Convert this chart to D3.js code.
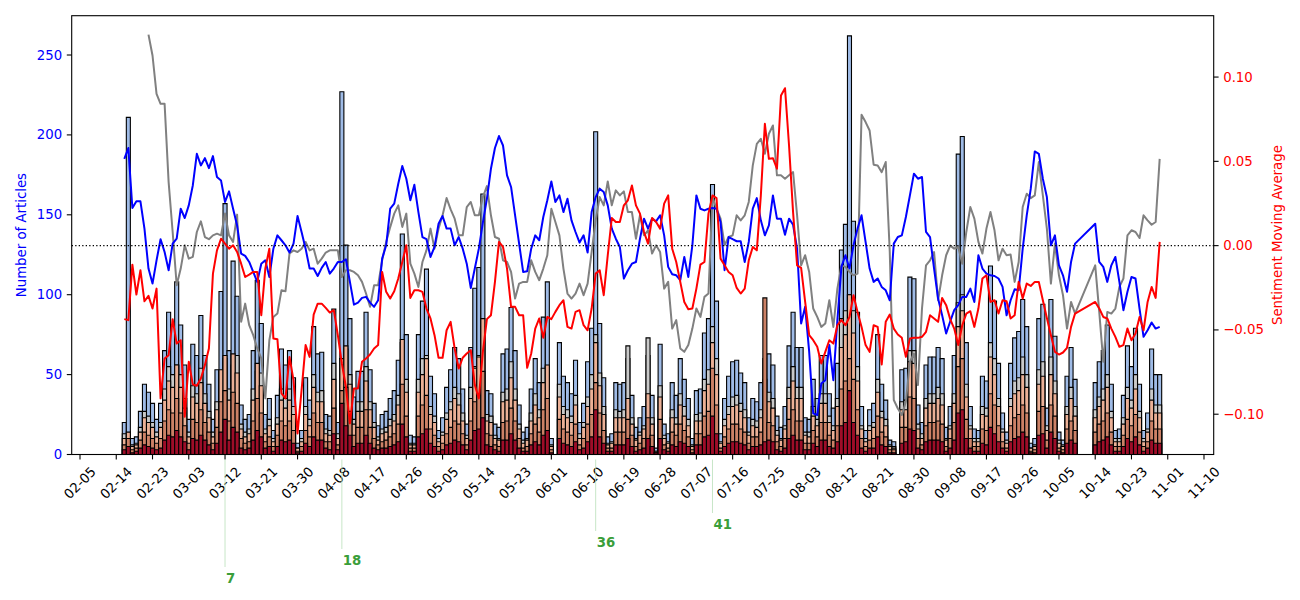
<!DOCTYPE html>
<html><head><meta charset="utf-8">
<script src="https://cdn.jsdelivr.net/npm/d3@7"></script>
<style>body{margin:0;background:#fff}text{font-family:"DejaVu Sans",sans-serif}</style>
</head><body><svg id="c" width="1300" height="600"></svg>
<script>
const startDay = "2020-02-16";
const totalArticles = [20,211,10,11,27,44,39,32,22,32,65,89,81,108,81,56,22,69,62,87,62,44,22,53,102,157,65,121,99,31,22,25,65,
109,82,25,35,15,37,66,56,65,48,7,15,48,34,80,63,64,25,24,91,20,227,131,85,36,52,52,89,53,32,18,25,27,35,40,
59,138,75,12,11,75,96,116,49,38,15,23,42,53,67,60,41,19,67,104,117,163,40,38,19,17,63,66,92,65,31,14,17,
41,60,45,86,108,10,0,70,49,45,38,59,20,32,58,79,202,82,48,11,13,45,44,45,60,37,17,23,30,62,37,4,69,19,13,45,
37,60,47,35,10,40,41,76,85,169,96,13,35,49,58,59,51,45,23,35,33,45,60,63,56,24,17,30,68,89,67,67,23,22,47,
35,62,62,38,29,57,128,144,262,146,89,30,15,28,32,75,44,34,9,8,0,53,54,111,110,31,20,56,61,61,67,60,17,30,
62,188,199,70,30,16,15,49,46,118,96,57,26,14,57,73,77,97,80,7,10,85,94,29,97,74,14,9,49,67,47,0,
0,0,0,
45,58,65,81,44,15,16,37,68,55,79,44,15,26,66,50,50];
const grayCounts = [13,12,6,7,17,27,24,20,14,20,41,55,50,56,50,35,14,43,38,54,38,27,14,33,52,60,41,56,62,19,14,16,41,
52,51,16,22,10,23,41,35,41,30,4,10,30,22,50,39,40,16,15,57,13,60,66,50,22,33,33,55,33,20,11,16,17,22,25,
37,70,47,7,7,47,60,62,30,24,10,14,26,33,42,38,26,12,42,55,62,80,25,24,12,10,39,41,58,41,19,9,10,
26,38,28,54,55,6,0,44,30,28,24,37,13,20,36,50,75,51,30,7,8,28,27,28,68,23,10,14,18,73,23,2,43,12,8,28,
23,38,30,22,6,25,26,47,53,80,60,8,22,30,36,37,32,28,14,22,21,28,47,39,35,15,10,18,42,55,42,42,14,14,30,
22,38,38,24,18,35,85,90,100,90,55,18,10,18,20,47,27,22,6,5,0,33,34,65,65,19,13,35,38,38,42,38,10,18,
38,95,100,44,18,10,10,30,29,70,60,35,16,9,35,46,48,61,50,4,6,53,58,18,61,46,9,6,30,42,30,0,
0,0,0,
28,36,41,50,27,10,10,23,42,34,50,27,10,16,41,31,31];
const lightCounts = [10,14,5,6,14,23,20,17,11,17,34,46,42,56,42,29,11,36,32,45,32,23,11,28,53,62,34,63,51,16,11,13,34,
57,43,13,18,8,19,34,29,34,25,4,8,25,18,42,33,33,13,12,47,10,60,68,44,19,27,27,46,28,17,9,13,14,18,21,
31,72,39,6,6,39,50,60,25,20,8,12,22,28,35,31,21,10,35,54,61,85,21,20,10,9,33,34,48,34,16,7,9,
21,31,23,45,56,5,0,36,25,23,20,31,10,17,30,41,70,43,25,6,7,23,23,23,35,19,9,12,16,38,19,2,36,10,7,23,
19,31,24,18,5,21,21,40,44,70,50,7,18,25,30,31,27,23,12,18,17,23,31,33,29,12,9,16,35,46,35,35,12,11,24,
18,32,32,20,15,30,67,75,100,76,46,16,8,15,17,39,23,18,5,4,0,28,28,58,57,16,10,29,32,32,35,31,9,16,
32,80,90,36,16,8,8,25,24,61,50,30,14,7,30,38,40,50,42,4,5,44,49,15,50,38,7,5,25,35,24,0,
0,0,0,
23,30,34,42,23,8,8,19,35,29,41,23,8,14,34,26,26];
const midCounts = [6,10,3,4,9,14,12,10,7,10,21,28,26,35,26,18,7,22,20,28,20,14,7,17,33,40,21,39,32,10,7,8,21,
35,26,8,11,5,12,21,18,21,15,2,5,15,11,26,20,20,8,8,29,6,40,42,27,12,17,17,28,17,10,6,8,9,11,13,
19,44,24,4,4,24,31,37,16,12,5,7,13,17,21,19,13,6,21,33,37,52,13,12,6,5,20,21,29,21,10,4,5,
13,19,14,28,35,3,0,22,16,14,12,19,6,10,19,25,45,26,15,4,4,14,14,14,22,12,5,7,10,23,12,1,22,6,4,14,
12,19,15,11,3,13,13,24,27,54,31,4,11,16,19,19,16,14,7,11,11,14,98,20,18,8,5,10,22,28,21,21,7,7,15,
11,20,20,12,9,18,41,46,60,47,28,10,5,9,10,24,14,11,3,3,0,17,17,36,35,10,6,18,20,20,21,19,5,10,
20,55,60,22,10,5,5,16,15,38,31,18,8,4,18,23,25,31,26,2,3,27,30,9,31,24,4,3,16,21,15,0,
0,0,0,
14,19,21,26,14,5,5,12,22,18,25,14,5,8,21,16,16];
const darkCounts = [3,5,1,2,4,6,5,4,3,4,9,12,11,15,11,8,3,10,9,12,9,6,3,7,14,22,9,17,14,4,3,4,9,
15,11,4,5,2,5,9,8,9,7,1,2,7,5,11,9,9,4,3,13,3,32,18,12,5,7,7,12,7,4,3,4,4,5,6,
8,19,11,2,2,11,13,16,7,5,2,3,6,7,9,8,6,3,9,15,16,23,6,5,3,2,9,9,13,9,4,2,2,
6,8,6,12,15,1,0,10,7,6,5,8,3,4,8,11,28,11,7,2,2,6,6,6,10,5,2,3,4,10,5,1,10,3,2,6,
5,8,7,5,1,6,6,11,12,24,13,2,5,7,8,8,7,6,3,5,5,6,8,9,8,3,2,4,10,12,9,9,3,3,7,
5,9,9,5,4,8,18,20,40,20,12,4,2,4,4,11,6,5,1,1,0,7,8,16,15,4,3,8,9,9,9,8,2,4,
9,26,28,10,4,2,2,7,6,17,13,8,4,2,8,10,11,14,11,1,1,12,13,4,14,10,2,1,7,9,7,0,
0,0,0,
6,8,9,11,6,2,2,5,10,8,11,6,2,4,9,7,7];
const sentimentMA = [-0.0436,-0.0442,-0.0113,-0.0290,-0.0146,-0.0330,-0.0298,-0.0373,-0.0255,-0.0906,-0.0669,-0.0650,-0.0436,-0.0581,-0.0561,-0.1015,-0.0689,-0.0823,-0.0831,-0.0788,-0.0709,-0.0610,-0.0166,-0.0028,0.0041,0.0012,-0.0018,0.0002,-0.0038,-0.0107,-0.0186,-0.0172,-0.0156,
-0.0156,-0.0413,-0.0136,-0.0018,-0.0551,-0.0555,-0.0877,-0.0906,-0.0660,-0.0798,-0.1114,-0.0857,-0.0590,-0.0660,-0.0409,-0.0344,-0.0344,-0.0369,-0.0397,-0.0383,-0.0531,-0.0699,-0.0837,-0.1054,-0.0847,-0.0847,-0.0689,-0.0669,-0.0646,-0.0610,-0.0590,-0.0156,-0.0274,-0.0314,-0.0271,
-0.0195,-0.0097,0.0002,-0.0310,-0.0265,-0.0265,-0.0274,-0.0373,-0.0432,-0.0531,-0.0665,-0.0665,-0.0502,-0.0452,-0.0610,-0.0729,-0.0665,-0.0640,-0.0620,-0.0827,-0.0906,-0.0630,-0.0436,-0.0413,-0.0215,0.0022,-0.0008,-0.0136,-0.0363,-0.0363,-0.0413,-0.0413,-0.0725,
-0.0640,-0.0492,-0.0432,-0.0547,-0.0423,-0.0436,-0.0393,-0.0353,-0.0324,-0.0482,-0.0492,-0.0393,-0.0383,-0.0472,-0.0502,-0.0373,-0.0166,-0.0146,-0.0294,-0.0057,0.0164,0.0140,0.0140,0.0239,0.0269,0.0357,0.0239,0.0190,0.0081,0.0012,0.0164,0.0140,0.0101,0.0249,0.0298,-0.0018,
-0.0097,-0.0215,-0.0334,-0.0377,-0.0373,-0.0255,-0.0113,-0.0097,0.0190,0.0298,0.0282,-0.0077,-0.0117,-0.0156,-0.0176,-0.0251,-0.0284,-0.0255,-0.0087,-0.0008,-0.0028,0.0298,0.0723,0.0515,0.0519,0.0456,0.0891,0.0934,0.0594,0.0199,-0.0117,-0.0132,-0.0334,-0.0531,-0.0561,
-0.0600,-0.0699,-0.0630,-0.0561,-0.0581,-0.0472,-0.0442,-0.0472,-0.0423,-0.0294,-0.0393,-0.0482,-0.0590,-0.0630,-0.0472,-0.0482,-0.0705,-0.0452,-0.0409,-0.0492,-0.0527,-0.0547,-0.0660,-0.0551,-0.0547,-0.0547,-0.0541,-0.0511,-0.0413,-0.0432,-0.0452,-0.0310,-0.0353,-0.0436,
-0.0492,-0.0590,-0.0472,-0.0403,-0.0389,-0.0482,-0.0373,-0.0195,-0.0176,-0.0334,-0.0324,-0.0403,-0.0324,-0.0330,-0.0432,-0.0413,-0.0215,-0.0314,-0.0225,-0.0239,-0.0215,-0.0215,-0.0324,-0.0429,-0.0531,-0.0630,-0.0646,-0.0634,-0.0606,-0.0482,-0.0403,
null,null,null,null,
-0.0334,-0.0373,-0.0423,-0.0432,-0.0492,-0.0541,-0.0600,-0.0590,-0.0492,-0.0561,-0.0521,-0.0423,-0.0502,-0.0334,-0.0245,-0.0310,0.0022];
const blueMA = [0.0515,0.0579,0.0223,0.0263,0.0263,0.0101,-0.0136,-0.0225,-0.0087,0.0038,-0.0038,-0.0146,0.0012,0.0041,0.0219,0.0164,0.0239,0.0357,0.0545,0.0476,0.0519,0.0460,0.0531,0.0407,0.0387,0.0259,0.0322,0.0219,0.0120,-0.0047,-0.0061,-0.0097,-0.0155,
-0.0215,-0.0107,-0.0087,-0.0186,-0.0018,0.0061,0.0032,0.0002,-0.0041,0.0012,0.0176,0.0081,-0.0018,-0.0136,-0.0136,-0.0180,-0.0132,-0.0097,-0.0166,-0.0136,-0.0097,-0.0097,-0.0081,-0.0215,-0.0350,-0.0338,-0.0310,-0.0304,-0.0338,-0.0363,-0.0324,-0.0077,0.0002,0.0219,0.0249,
0.0367,0.0472,0.0397,0.0269,0.0361,0.0199,0.0051,0.0038,-0.0067,-0.0008,0.0130,0.0176,0.0101,0.0101,0.0002,0.0051,-0.0018,-0.0107,-0.0251,-0.0136,-0.0018,0.0136,0.0278,0.0456,0.0579,0.0650,0.0594,0.0417,0.0348,0.0180,0.0012,-0.0156,-0.0152,
-0.0018,0.0061,0.0032,0.0170,0.0269,0.0381,0.0259,0.0298,0.0199,0.0278,0.0150,0.0081,0.0018,0.0061,-0.0041,0.0199,0.0288,0.0338,0.0318,0.0239,0.0101,0.0041,-0.0008,-0.0195,-0.0146,-0.0107,-0.0097,0.0041,0.0160,0.0101,0.0160,0.0144,0.0180,0.0061,-0.0126,-0.0170,
-0.0176,-0.0205,-0.0067,-0.0186,0.0002,0.0298,0.0219,0.0209,0.0219,0.0223,0.0219,0.0140,-0.0146,0.0051,0.0038,0.0026,0.0026,-0.0097,0.0022,0.0219,0.0282,0.0150,0.0061,0.0120,0.0298,0.0160,0.0160,0.0065,0.0160,0.0124,-0.0018,-0.0462,-0.0363,-0.0630,-0.0995,
-0.1005,-0.0818,-0.0798,-0.0590,-0.0798,-0.0442,-0.0126,-0.0057,-0.0136,0.0002,0.0101,0.0180,0.0022,-0.0136,-0.0215,-0.0195,-0.0245,-0.0265,-0.0324,0.0012,0.0051,0.0061,0.0170,0.0298,0.0427,0.0397,0.0407,0.0081,0.0051,-0.0136,-0.0314,-0.0413,-0.0521,-0.0450,
-0.0383,-0.0353,-0.0304,-0.0304,-0.0255,-0.0334,-0.0057,-0.0136,-0.0166,-0.0176,-0.0180,-0.0195,-0.0245,-0.0413,-0.0324,-0.0259,-0.0265,-0.0018,0.0180,0.0338,0.0559,0.0545,0.0397,0.0288,0.0002,0.0061,-0.0117,-0.0176,-0.0274,-0.0097,0.0012,
null,null,null,null,
0.0130,-0.0097,-0.0126,-0.0215,-0.0117,-0.0067,-0.0215,-0.0383,-0.0274,-0.0186,-0.0195,-0.0373,-0.0541,-0.0502,-0.0456,-0.0492,-0.0482];
const grayMA = [null,null,null,null,null,null,
0.1252,0.1128,0.0900,0.0841,0.0841,0.0377,0.0081,-0.0235,-0.0136,0.0002,-0.0077,-0.0067,0.0081,0.0144,0.0051,0.0038,0.0061,0.0071,0.0061,0.0190,0.0061,0.0022,0.0184,-0.0452,-0.0344,-0.0472,-0.0531,
-0.0610,-0.0669,-0.0906,-0.0561,-0.0423,-0.0403,-0.0265,-0.0271,-0.0047,-0.0028,-0.0038,-0.0018,0.0022,-0.0028,-0.0018,-0.0107,-0.0077,-0.0041,-0.0028,-0.0028,-0.0028,-0.0186,-0.0146,-0.0146,-0.0156,-0.0176,-0.0215,-0.0284,-0.0363,-0.0235,-0.0235,-0.0087,0.0022,0.0110,0.0190,
0.0239,0.0111,0.0190,-0.0107,-0.0166,-0.0245,-0.0097,-0.0028,0.0101,-0.0018,0.0101,0.0180,0.0282,0.0215,0.0160,0.0061,0.0061,0.0229,0.0259,0.0180,0.0180,0.0288,0.0353,0.0180,0.0051,0.0041,-0.0087,-0.0097,-0.0156,-0.0314,-0.0225,-0.0215,-0.0215,
-0.0087,-0.0156,-0.0205,-0.0136,-0.0057,0.0219,0.0140,0.0061,-0.0136,-0.0284,-0.0314,-0.0284,-0.0225,-0.0294,-0.0225,-0.0038,0.0150,0.0288,0.0239,0.0381,0.0239,0.0328,0.0298,0.0322,0.0199,0.0199,0.0041,0.0180,0.0061,0.0091,-0.0047,0.0002,-0.0038,-0.0255,-0.0215,-0.0492,
-0.0442,-0.0610,-0.0630,-0.0590,-0.0492,-0.0373,-0.0423,-0.0304,-0.0284,0.0288,0.0219,0.0160,0.0002,0.0051,0.0061,0.0180,0.0150,0.0180,0.0259,0.0476,0.0604,0.0634,0.0545,0.0664,0.0713,0.0417,0.0417,0.0397,0.0417,0.0436,0.0180,-0.0117,-0.0057,-0.0156,-0.0373,
-0.0423,-0.0482,-0.0462,-0.0324,-0.0482,-0.0255,-0.0117,-0.0126,-0.0156,-0.0176,-0.0166,0.0776,0.0733,0.0683,0.0480,0.0476,0.0436,0.0496,-0.0038,-0.0916,-0.0966,-0.1005,-0.0926,-0.0689,-0.0640,-0.0827,-0.0373,-0.0117,-0.0087,-0.0038,-0.0324,-0.0176,-0.0057,0.0000,
-0.0018,-0.0008,-0.0107,0.0081,0.0229,0.0160,0.0022,-0.0047,0.0101,0.0199,0.0091,-0.0087,-0.0018,-0.0057,-0.0053,-0.0215,-0.0097,0.0229,0.0308,0.0282,0.0298,0.0496,0.0298,0.0101,-0.0225,0.0012,-0.0176,-0.0294,-0.0492,-0.0334,-0.0403,
null,null,null,null,
-0.0117,-0.0393,-0.0689,-0.0393,-0.0403,-0.0373,-0.0245,-0.0195,0.0061,0.0091,0.0081,0.0045,0.0180,0.0150,0.0124,0.0140,0.0515];
const xTickLabels = ["02-05","02-14","02-23","03-03","03-12","03-21","03-30","04-08","04-17","04-26","05-05","05-14","05-23","06-01","06-10","06-19","06-28","07-07","07-16","07-25","08-03","08-12","08-21","08-30","09-08","09-17","09-26","10-05","10-14","10-23","11-01","11-10"];
const leftTicks = [0,50,100,150,200,250];
const rightTicks = [-0.10,-0.05,0.00,0.05,0.10];
const annotDates = ["2020-03-12","2020-04-10","2020-06-12","2020-07-11"];
const annotLabels = ["7","18","36","41"];

const L=71.7,R=1213.7,T=15.7,B=454.5;
const svg=d3.select("#c");
svg.append("rect").attr("width",1300).attr("height",600).attr("fill","#fff");
const parse=d3.utcParse("%Y-%m-%d");
const d0=parse(startDay);
const dates=totalArticles.map((_,i)=>d3.utcDay.offset(d0,i));
const x=d3.scaleUtc().domain([new Date(Date.UTC(2020,1,5)-2.06*864e5),new Date(Date.UTC(2020,10,10)+2.41*864e5)]).range([L,R]);
const yL=d3.scaleLinear().domain([0,274.6]).range([B,T]);
const yR=d3.scaleLinear().domain([-0.1239,0.1364]).range([B,T]);
const dayW=x(d3.utcDay.offset(d0,1))-x(d0);

const layers=[[totalArticles,"#9fbbe6"],[grayCounts,"#c9c9c9"],[lightCounts,"#ebb096"],[midCounts,"#cc8166"],[darkCounts,"#9e0d28"]];
layers.forEach(([arr,col])=>{
  svg.append("g").selectAll("path").data(arr).join("path")
    .attr("d",(v,i)=>{const xl=x(dates[i])-dayW/2,yt=yL(v);return `M${xl},${B}V${yt}H${xl+dayW}V${B}Z`;})
    .attr("fill",col).attr("stroke","#000").attr("stroke-width",1.1);
});

function drawLine(arr,col){
  const pts=arr.map((v,i)=>({d:dates[i],v})).filter(p=>p.v!==null);
  svg.append("path").datum(pts).attr("fill","none").attr("stroke",col).attr("stroke-width",2)
    .attr("stroke-linejoin","round").attr("d",d3.line().x(p=>x(p.d)).y(p=>yR(p.v)));
}
drawLine(grayMA,"#808080");
drawLine(blueMA,"#0000ff");
svg.append("line").attr("x1",L).attr("x2",R).attr("y1",yR(0)).attr("y2",yR(0))
  .attr("stroke","#000").attr("stroke-width",1.3).attr("stroke-dasharray","1.3,2.2");
drawLine(sentimentMA,"#ff0000");

svg.append("rect").attr("x",L).attr("y",T).attr("width",R-L).attr("height",B-T).attr("fill","none").attr("stroke","#000").attr("stroke-width",1.1);

const tickDates=xTickLabels.map((_,k)=>d3.utcDay.offset(new Date(Date.UTC(2020,1,5)),9*k));
const gx=svg.append("g");
tickDates.forEach((d,k)=>{
  const tx=x(d);
  gx.append("line").attr("x1",tx).attr("x2",tx).attr("y1",B).attr("y2",B+4.9).attr("stroke","#000").attr("stroke-width",1.1);
  gx.append("text").attr("transform",`translate(${tx},${B+28.5}) rotate(-45)`).attr("text-anchor","middle")
    .attr("dominant-baseline","central").attr("font-size",13.3).attr("fill","#000").text(xTickLabels[k]);
});
leftTicks.forEach(t=>{
  const ty=yL(t);
  svg.append("line").attr("x1",L-4.9).attr("x2",L).attr("y1",ty).attr("y2",ty).attr("stroke","#000").attr("stroke-width",1.1);
  svg.append("text").attr("x",L-9.5).attr("y",ty).attr("text-anchor","end").attr("dominant-baseline","central")
    .attr("font-size",13.3).attr("fill","#0000ff").text(t);
});
rightTicks.forEach(t=>{
  const ty=yR(t);
  svg.append("line").attr("x1",R).attr("x2",R+4.9).attr("y1",ty).attr("y2",ty).attr("stroke","#000").attr("stroke-width",1.1);
  svg.append("text").attr("x",R+9.5).attr("y",ty).attr("text-anchor","start").attr("dominant-baseline","central")
    .attr("font-size",13.3).attr("fill","#ff0000").text(d3.format(".2f")(t).replace("-","\u2212"));
});
svg.append("text").attr("transform",`translate(21,${(T+B)/2}) rotate(-90)`).attr("text-anchor","middle")
  .attr("dominant-baseline","central").attr("font-size",13.3).attr("fill","#0000ff").text("Number of Articles");
svg.append("text").attr("transform",`translate(1277,${(T+B)/2}) rotate(-90)`).attr("text-anchor","middle")
  .attr("dominant-baseline","central").attr("font-size",13.3).attr("fill","#ff0000").text("Sentiment Moving Average");

annotDates.forEach((ds,k)=>{
  const ax=x(parse(ds));
  const ty=583-18*k;
  svg.append("line").attr("x1",ax).attr("x2",ax).attr("y1",B+5).attr("y2",ty-16).attr("stroke","#b9e0b9").attr("stroke-width",0.8);
  svg.append("text").attr("x",ax+1).attr("y",ty).attr("font-size",13.3).attr("font-weight","bold").attr("fill","#3a9e3a").text(annotLabels[k]);
});
</script></body></html>
